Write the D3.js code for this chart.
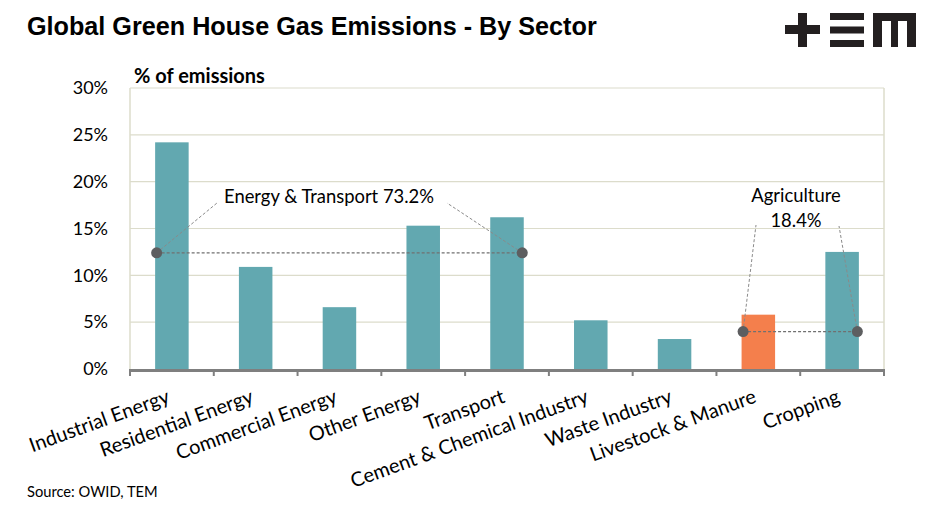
<!DOCTYPE html>
<html>
<head>
<meta charset="utf-8">
<script src="https://cdn.jsdelivr.net/npm/d3@7"></script>
<style>
  body { margin: 0; background: #fff; }
  svg { display: block; }
  text { font-family: Lato, "Open Sans", sans-serif; }
</style>
</head>
<body>
<svg id="chart" width="941" height="518"></svg>
<script>
// data
const sectors = ["Industrial Energy", "Residential Energy", "Commercial Energy", "Other Energy",
  "Transport", "Cement & Chemical Industry", "Waste Industry", "Livestock & Manure", "Cropping"];
const shares = [24.2, 10.9, 6.6, 15.3, 16.2, 5.2, 3.2, 5.8, 12.5];
const highlight = ["Livestock & Manure"];
const yTicks = [0, 5, 10, 15, 20, 25, 30];
const groups = [
  { label: ["Energy & Transport 73.2%"], from: "Industrial Energy", to: "Transport", level: 12.4 },
  { label: ["Agriculture", "18.4%"], from: "Livestock & Manure", to: "Cropping", level: 4.0 }
];

const svg = d3.select("#chart");
const m = { left: 130, right: 884, top: 88, bottom: 369 };

const x = d3.scaleBand().domain(sectors).range([m.left, m.right]).paddingInner(0.6).paddingOuter(0.3);
const xb = d3.scaleBand().domain(sectors).range([m.left, m.right]);
const y = d3.scaleLinear().domain([0, 30]).range([m.bottom, m.top]);

// title
svg.append("text").attr("x", 27).attr("y", 35)
  .style("font-family", "'Liberation Sans', Arial, sans-serif")
  .style("font-weight", "bold").style("font-size", "25.2px").text("Global Green House Gas Emissions - By Sector");

// logo
const logo = svg.append("g").attr("fill", "#231f20");
logo.append("rect").attr("x", 785).attr("y", 25).attr("width", 35).attr("height", 9);
logo.append("rect").attr("x", 798).attr("y", 13).attr("width", 9).attr("height", 34);
[13, 26.5, 40].forEach(v => logo.append("rect").attr("x", 830).attr("y", v).attr("width", 34).attr("height", 7));
logo.append("path").attr("fill-rule", "evenodd")
  .attr("d", "M873,13H916V47H873Z M882,21H891V47H882Z M898,21H907V47H898Z");

// grid + frame
svg.append("g").selectAll("line").data(yTicks.filter(d => d > 0)).join("line")
  .attr("x1", m.left).attr("x2", m.right).attr("y1", d => y(d)).attr("y2", d => y(d))
  .attr("stroke", "#dcdccb").attr("stroke-width", 1.2);
[m.left, m.right].forEach(v => svg.append("line").attr("x1", v).attr("x2", v)
  .attr("y1", m.top).attr("y2", m.bottom).attr("stroke", "#dcdccb").attr("stroke-width", 1.5));

// y axis labels
const yAxis = svg.append("g").attr("transform", `translate(${m.left},0)`)
  .call(d3.axisLeft(y).tickValues(yTicks).tickFormat(d => d + "%").tickSize(0).tickPadding(22));
yAxis.select(".domain").remove();
yAxis.selectAll("text").style("font-size", "18px").attr("fill", "#000")
  .style("font-family", "Lato, sans-serif");

svg.append("text").attr("x", 134).attr("y", 83).style("font-weight", "bold").style("font-size", "20px")
  .text("% of emissions");

// bars
svg.append("g").selectAll("rect").data(sectors).join("rect")
  .attr("x", d => x(d)).attr("width", x.bandwidth())
  .attr("y", (d, i) => y(shares[i])).attr("height", (d, i) => y(0) - y(shares[i]))
  .attr("fill", d => highlight.includes(d) ? "#f47f4c" : "#62a8b0");

// x axis
const xAxis = svg.append("g").attr("transform", `translate(0,${m.bottom + 1})`)
  .call(d3.axisBottom(xb).tickSize(0).tickFormat(""));
xAxis.select(".domain").attr("stroke", "#7f7f7f").attr("stroke-width", 3);
svg.append("g").selectAll("line").data(d3.range(sectors.length + 1)).join("line")
  .attr("x1", i => m.left + i * xb.step()).attr("x2", i => m.left + i * xb.step())
  .attr("y1", m.bottom).attr("y2", m.bottom + 7)
  .attr("stroke", "#7f7f7f").attr("stroke-width", 2);

svg.append("g").selectAll("text").data(sectors).join("text")
  .attr("transform", d => `translate(${xb(d) + xb.bandwidth() / 2 - 1},402) rotate(-20)`)
  .attr("text-anchor", "end")
  .style("font-size", "20px").text(d => d);

// annotations
const labelPos = [
  { x: 329, y: 203, ends: [[217, 203], [447, 203]] },
  { x: 796, y: 202, ends: [[756, 225], [839, 226]] }
];
groups.forEach((g, gi) => {
  const x1 = x(g.from) + 1.5;
  const x2 = x(g.to) + x.bandwidth() - 1.5;
  const yy = y(g.level);
  const p = labelPos[gi];
  const ann = svg.append("g");
  ann.append("line").attr("x1", x1).attr("x2", x2).attr("y1", yy).attr("y2", yy)
    .attr("stroke", "#707070").attr("stroke-width", 1.3).attr("stroke-dasharray", "3,2");
  [[x1, p.ends[0]], [x2, p.ends[1]]].forEach(([a, b]) => ann.append("line")
    .attr("x1", a).attr("y1", yy).attr("x2", b[0]).attr("y2", b[1])
    .attr("stroke", "#8a8a8a").attr("stroke-width", 1).attr("stroke-dasharray", "3,2"));
  [x1, x2].forEach(c => ann.append("circle").attr("cx", c).attr("cy", yy).attr("r", 5.5).attr("fill", "#5d5e60"));
  ann.append("text").attr("text-anchor", "middle").attr("y", p.y).style("font-size", "18.4px")
    .selectAll("tspan").data(g.label).join("tspan")
    .attr("x", p.x).attr("dy", (d, i) => i ? 25 : 0).text(d => d);
});

svg.append("text").attr("x", 27).attr("y", 497).style("font-size", "14.7px").text("Source: OWID, TEM");
</script>
</body>
</html>
